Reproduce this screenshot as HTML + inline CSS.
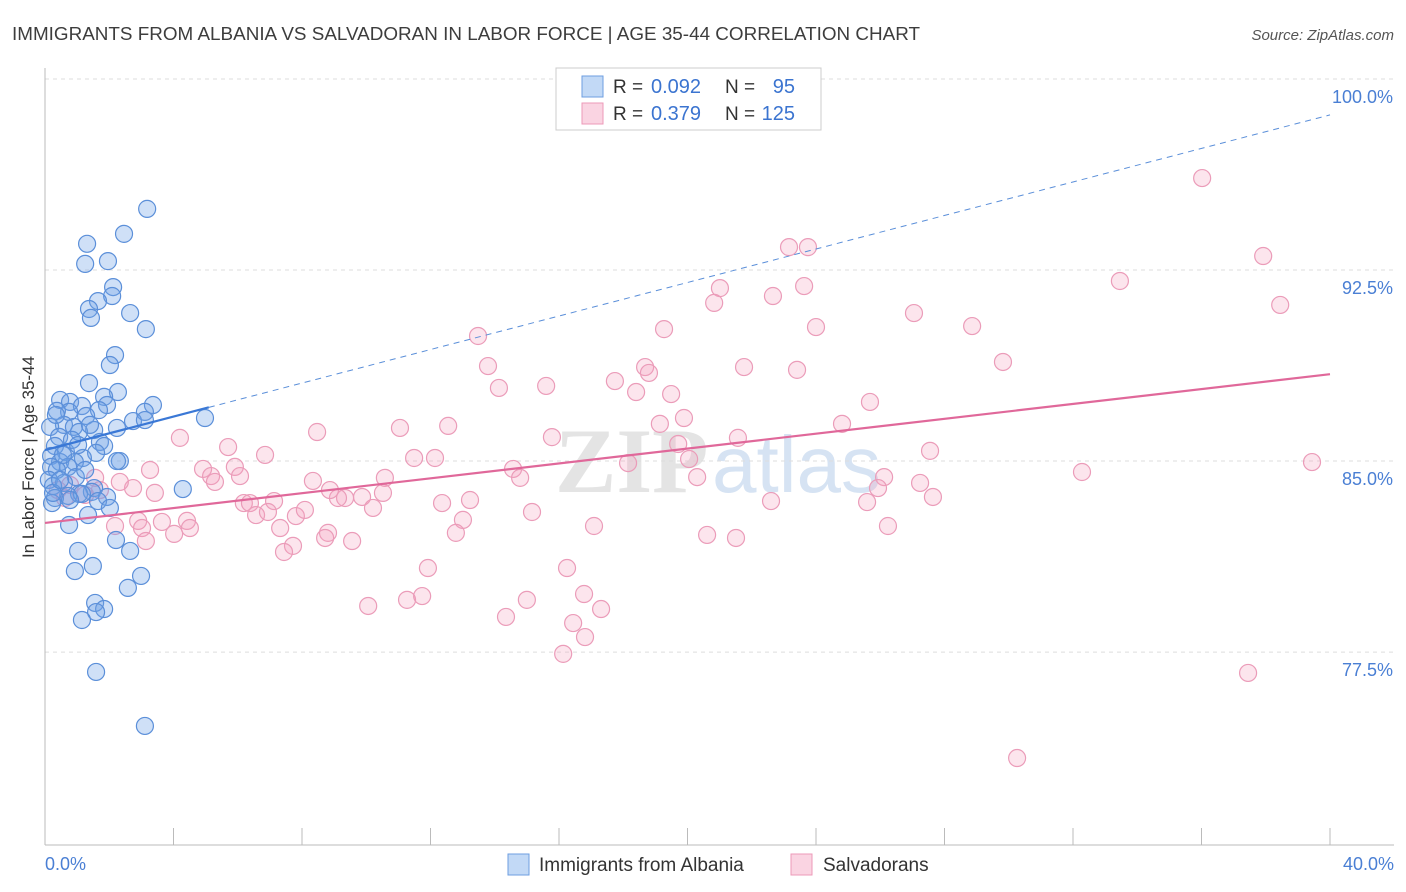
<!DOCTYPE html>
<html><head><meta charset="utf-8">
<style>
body{margin:0;background:#fff;font-family:"Liberation Sans",sans-serif;}
#wrap{position:relative;width:1406px;height:892px;overflow:hidden;}
</style></head>
<body>
<div id="wrap">
<svg id="svg" width="1406" height="892" xmlns="http://www.w3.org/2000/svg">
<text x="12" y="40" font-size="18" fill="#3d3d3d" textLength="908" lengthAdjust="spacingAndGlyphs">IMMIGRANTS FROM ALBANIA VS SALVADORAN IN LABOR FORCE | AGE 35-44 CORRELATION CHART</text>
<text x="1394" y="40" font-size="15" fill="#555" font-style="italic" text-anchor="end">Source: ZipAtlas.com</text>
<text x="34" y="457" font-size="17" fill="#333" text-anchor="middle" transform="rotate(-90 34 457)">In Labor Force | Age 35-44</text>
<g><text x="555" y="492" font-size="92" fill="#e4e4e4" font-weight="bold" font-family="Liberation Serif,serif">ZIP</text><text x="712" y="492" font-size="80" fill="#d6e3f3">atlas</text></g>
<g id="grid"></g><g id="axes"></g><g id="marks"></g><g id="lines"></g>
<g>
<rect x="556" y="68" width="265" height="62" fill="#fff" stroke="#ccc"/>
<rect x="582" y="76" width="21" height="21" fill="rgba(120,170,235,0.45)" stroke="#6d9ee0"/>
<rect x="582" y="103" width="21" height="21" fill="rgba(245,160,190,0.45)" stroke="#ec9ab8"/>
<text x="613" y="93" font-size="19" fill="#333">R =</text><text x="651" y="93" font-size="20" fill="#3b74d0">0.092</text>
<text x="725" y="93" font-size="19" fill="#333">N =</text><text x="795" y="93" font-size="20" fill="#3b74d0" text-anchor="end">95</text>
<text x="613" y="120" font-size="19" fill="#333">R =</text><text x="651" y="120" font-size="20" fill="#3b74d0">0.379</text>
<text x="725" y="120" font-size="19" fill="#333">N =</text><text x="795" y="120" font-size="20" fill="#3b74d0" text-anchor="end">125</text>
</g>
<g>
<rect x="508" y="854" width="21" height="21" fill="rgba(120,170,235,0.45)" stroke="#6d9ee0"/>
<text x="539" y="871" font-size="19" fill="#333">Immigrants from Albania</text>
<rect x="791" y="854" width="21" height="21" fill="rgba(245,160,190,0.45)" stroke="#ec9ab8"/>
<text x="823" y="871" font-size="19" fill="#333">Salvadorans</text>
</g>
</svg>
</div>
<script>
const yTicks=[100,92.5,85,77.5];
const yTickLabels=["100.0%","92.5%","85.0%","77.5%"];
const xTickVals=[0,4,8,12,16,20,24,28,32,36,40];
const blueX=[3.18,2.46,1.31,1.25,1.96,2.12,2.09,1.65,1.37,1.43,2.65,3.14,2.18,2.02,1.37,2.27,0.47,0.78,1.84,1.93,1.15,1.68,3.36,3.11,0.75,0.37,1.28,2.74,3.11,4.98,0.59,0.90,0.16,1.53,1.06,0.44,2.24,1.71,1.84,0.31,0.65,1.59,0.19,1.18,2.33,2.24,0.47,0.93,0.72,0.19,0.37,0.96,0.12,0.59,0.25,1.53,1.46,1.06,0.72,1.93,4.29,0.31,1.65,1.15,2.02,1.34,0.22,0.75,2.21,1.03,2.65,1.49,0.93,2.99,2.58,1.56,1.84,1.59,1.15,1.59,3.11,0.25,0.47,0.78,1.25,0.56,0.84,1.40,0.34,1.03];
const blueY=[94.90,93.92,93.53,92.74,92.85,91.83,91.48,91.28,90.97,90.62,90.81,90.18,89.16,88.77,88.06,87.71,87.40,87.32,87.52,87.20,87.16,87.00,87.20,86.93,86.93,86.97,86.77,86.57,86.61,86.69,86.42,86.34,86.34,86.22,86.14,85.95,86.30,85.75,85.59,85.59,85.36,85.32,85.20,85.12,85.00,85.00,84.96,84.96,84.77,84.77,84.65,84.37,84.26,84.14,84.02,83.94,83.79,83.71,83.63,83.59,83.90,83.55,83.43,83.71,83.16,82.88,83.35,82.49,81.90,81.47,81.47,80.88,80.68,80.49,80.02,79.43,79.19,79.07,78.76,76.72,74.60,83.75,84.26,83.47,84.65,85.24,85.83,86.42,86.81,85.63];
const pinkX=[36.02,37.92,33.46,38.45,23.75,23.16,21.01,20.83,22.66,23.63,27.05,28.86,24.00,19.27,13.48,29.82,13.79,21.76,23.41,17.74,15.60,14.13,18.68,18.80,18.40,19.49,25.68,19.89,19.14,11.05,12.55,8.47,15.78,21.57,4.20,19.71,5.70,6.85,11.49,12.14,18.15,20.05,27.55,24.81,32.28,39.44,14.57,14.79,4.92,5.91,5.17,5.29,20.30,26.12,10.58,8.34,25.93,27.24,2.74,3.42,9.34,9.87,10.52,9.12,6.19,6.38,7.13,12.36,13.23,15.16,10.21,27.64,25.59,22.60,13.01,7.81,8.09,6.57,6.94,4.42,3.64,2.18,2.90,3.02,4.02,12.79,7.32,8.81,8.72,9.56,17.09,20.61,21.51,26.24,3.14,7.72,7.44,11.92,16.25,16.78,17.31,15.00,11.27,11.74,10.06,14.35,16.44,16.81,16.13,37.45,30.26,1.25,0.62,0.78,1.71,0.40,1.56,2.33,3.27,6.07,8.87,4.51];
const pinkY=[96.11,93.05,92.07,91.13,93.40,93.40,91.79,91.21,91.48,91.87,90.81,90.30,90.26,90.18,89.91,88.89,88.73,88.69,88.58,88.14,87.95,87.87,88.69,88.46,87.71,87.63,87.32,86.69,86.46,86.30,86.38,86.14,85.94,85.91,85.91,85.67,85.55,85.24,85.12,85.12,84.92,85.08,85.40,86.46,84.57,84.96,84.69,84.34,84.69,84.77,84.41,84.18,84.37,84.37,84.34,84.22,83.94,84.14,83.94,83.75,83.55,83.59,83.75,83.55,83.35,83.35,83.43,83.35,83.47,83.00,83.16,83.59,83.39,83.43,82.69,82.84,83.08,82.88,83.00,82.65,82.61,82.45,82.65,82.37,82.14,82.18,82.37,82.18,81.98,81.86,82.45,82.10,81.98,82.45,81.86,81.67,81.43,80.80,80.80,79.78,79.19,79.55,79.55,79.70,79.31,78.88,78.64,78.09,77.43,76.68,73.34,83.67,83.55,84.06,83.86,83.86,84.34,84.18,84.65,84.41,83.86,82.37];
const blueTrend=[85.43,0.329];
const blueSolidEnd=5.1;
const pinkTrend=[82.57,0.146];

const NS="http://www.w3.org/2000/svg";
const xs=v=>45+v*(1285/40);
const ys=v=>79+(100-v)*25.47;
function mk(tag,attrs,parent){const e=document.createElementNS(NS,tag);for(const k in attrs)e.setAttribute(k,attrs[k]);parent.appendChild(e);return e;}
const grid=document.getElementById('grid'),axes=document.getElementById('axes'),marks=document.getElementById('marks'),lines=document.getElementById('lines');
yTicks.forEach((t,i)=>{
  const l=mk('line',{x1:45,x2:1394,y1:ys(t),y2:ys(t),stroke:'#ddd','stroke-dasharray':'4,4'},grid);
  
  
  const tx=mk('text',{x:1393,y:ys(t)+24,'font-size':18,fill:'#4a7fd4','text-anchor':'end'},axes);
  tx.textContent=yTickLabels[i];
  
  
});
const xa=mk('line',{x1:45,x2:1394,y1:845,y2:845,stroke:'#bbb'},axes);


const ya=mk('line',{x1:45,x2:45,y1:68,y2:845,stroke:'#bbb'},axes);


xTickVals.forEach(t=>{
  const l=mk('line',{x1:xs(t),x2:xs(t),y1:828,y2:845,stroke:'#bbb'},axes);
  
  
});
const xl0=mk('text',{x:45,y:870,'font-size':18,fill:'#4a7fd4'},axes);xl0.textContent='0.0%';


const xl1=mk('text',{x:1394,y:870,'font-size':18,fill:'#4a7fd4','text-anchor':'end'},axes);xl1.textContent='40.0%';


pinkX.forEach((x,i)=>{
  const c=mk('circle',{cx:xs(x),cy:ys(pinkY[i]),r:8.5,fill:'rgba(245,160,190,0.28)',stroke:'#eb9cb9','stroke-width':1.2},marks);
  
  
});
blueX.forEach((x,i)=>{
  const c=mk('circle',{cx:xs(x),cy:ys(blueY[i]),r:8.5,fill:'rgba(110,160,230,0.33)',stroke:'#5b8fd9','stroke-width':1.2},marks);
  
  
});
const bf=x=>blueTrend[0]+blueTrend[1]*x, pf=x=>pinkTrend[0]+pinkTrend[1]*x;
const bd=mk('line',{x1:xs(blueSolidEnd),y1:ys(bf(blueSolidEnd)),x2:xs(40),y2:ys(bf(40)),stroke:'#5b8fd9','stroke-width':1,'stroke-dasharray':'6,5'},lines);


const bs=mk('line',{x1:xs(0),y1:ys(bf(0)),x2:xs(blueSolidEnd),y2:ys(bf(blueSolidEnd)),stroke:'#3a78d6','stroke-width':2.2},lines);


const ps=mk('line',{x1:xs(0),y1:ys(pf(0)),x2:xs(40),y2:ys(pf(40)),stroke:'#e0689a','stroke-width':2.2},lines);


</script>
</body></html>
